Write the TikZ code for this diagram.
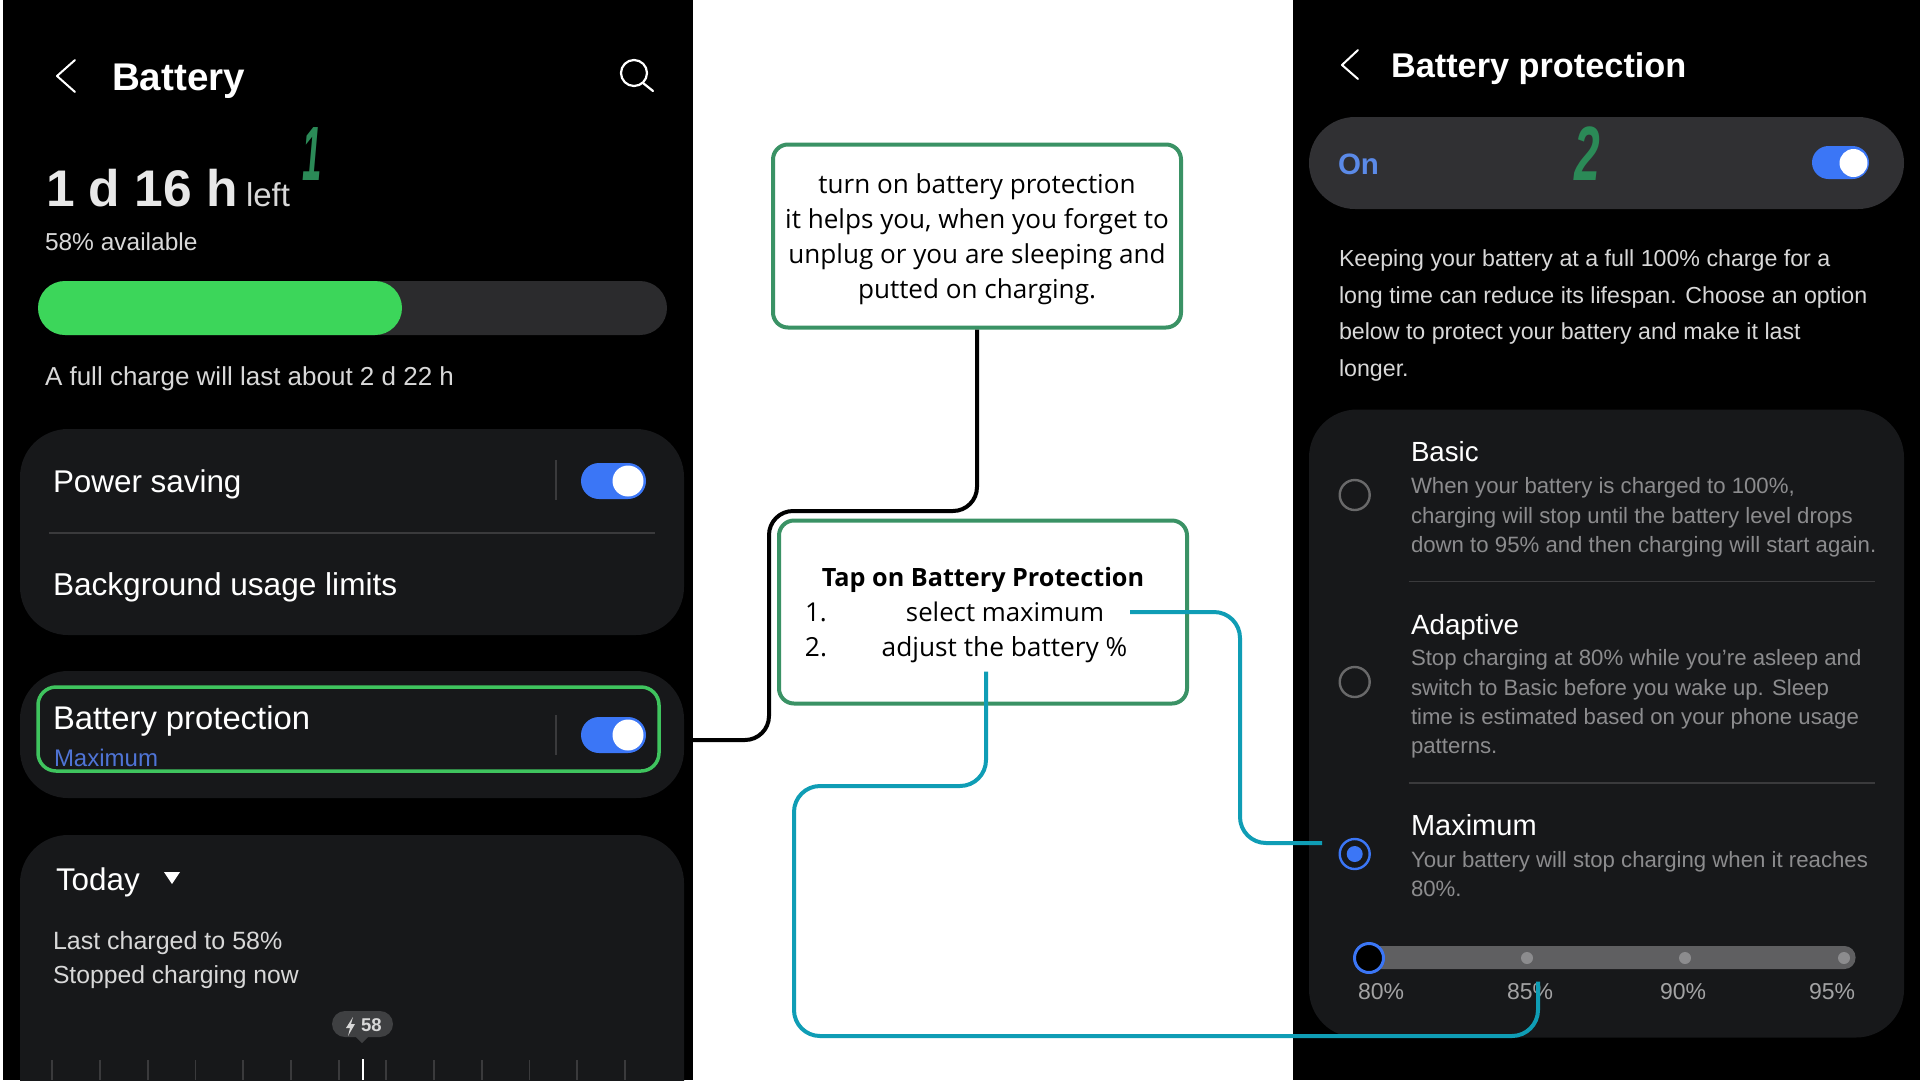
\documentclass[tikz,border=0pt]{standalone}
\usepackage{fontspec}
\setmainfont{Liberation Sans}
\newfontfamily\calloutfont{Open Sans}
\newcommand{\pxs}[1]{\fontsize{#1}{#1}\selectfont}
\definecolor{cardbg}{HTML}{17181A}
\definecolor{pillbg}{HTML}{303033}
\definecolor{barbg}{HTML}{2B2B2D}
\definecolor{batgreen}{HTML}{3CD65A}
\definecolor{hlgreen}{HTML}{3FC45E}
\definecolor{boxgreen}{HTML}{3A9265}
\definecolor{numgreen}{HTML}{2B8A57}
\definecolor{tblue}{HTML}{3B76F6}
\definecolor{linkblue}{HTML}{4F74D6}
\definecolor{onblue}{HTML}{5B8AE8}
\definecolor{teal}{HTML}{0F9DB5}
\definecolor{sepgrey}{HTML}{3A3A3C}
\definecolor{bubble}{HTML}{3F4042}
\definecolor{desc}{HTML}{8C8C8E}
\definecolor{track}{HTML}{5F5F61}
\definecolor{subtle}{HTML}{D8D8D8}
\tikzset{
  lbl/.style={anchor=base west,inner sep=0pt,outer sep=0pt,text=white},
  ctr/.style={anchor=base,inner sep=0pt,outer sep=0pt},
  calloutbox/.style={draw=boxgreen,line width=4pt,rounded corners=15pt,fill=white,align=center,inner sep=0pt,font=\calloutfont},
  card/.style={fill=cardbg,rounded corners=48pt},
  icon/.style={draw=white,line width=2.2pt,line cap=round,line join=round},
  blackconn/.style={draw=black,line width=4pt,rounded corners=24pt},
  tealconn/.style={draw=teal,line width=4pt,rounded corners=26pt},
  radio/.style={draw=#1,line width=2.4pt},
  desctext/.style={lbl,text=desc,font=\pxs{22.2}},
  pct/.style={lbl,text=desc!80!white,font=\pxs{23}}
}
\newcommand{\toggle}[2]{% x-left, y-centre
  \fill[tblue,rounded corners=18pt] (#1,#2-18) rectangle (#1+65,#2+18);
  \fill[white] (#1+47,#2) circle (15.5pt);
}
\begin{document}
\begin{tikzpicture}[x=1pt,y=-1pt]
\useasboundingbox (0,0) rectangle (1920,1080);
\fill[white] (0,0) rectangle (1920,1080);
% ---------- left phone
\fill[black] (3,0) rectangle (693,1080);
\draw[icon,line width=2pt] (75,60) -- (57,76) -- (75,92);
\node[lbl,font=\pxs{38.6}\bfseries] (title1) at (112,90) {Battery};
\draw[icon] (634,73) circle (13pt);
\draw[icon] (643,83) -- (653,91);
\node[lbl,font=\pxs{51.5}\bfseries,text=subtle!60!white] (remain) at (46,206) {1 d 16 h};
\node[lbl,font=\pxs{33},text=subtle] (leftw) at (246,206) {left};
\node[anchor=base,inner sep=0pt,text=numgreen,font=\pxs{77}\bfseries\itshape] (numone) at (312,180) {\scalebox{.45}[1]{1}};
\node[lbl,font=\pxs{24.5},text=subtle] (avail) at (45,250) {58\% available};
\fill[barbg,rounded corners=27pt] (38,281) rectangle (667,335);
\fill[batgreen,rounded corners=27pt] (38,281) rectangle (402,335);
\node[lbl,font=\pxs{26},text=subtle] (fullc) at (45,385) {A full charge will last about 2 d 22 h};
% card 1
\fill[card] (20,429) rectangle (684,635);
\node[lbl,font=\pxs{31.4}] (psave) at (53,492) {Power saving};
\draw[sepgrey,line width=1.5pt] (556,460) -- (556,500);
\toggle{581}{481}
\draw[sepgrey,line width=2pt] (49,533) -- (655,533);
\node[lbl,font=\pxs{31.6}] (bgul) at (53,595) {Background usage limits};
% card 2
\fill[card] (20,671) rectangle (684,798);
\draw[hlgreen,line width=3.5pt,rounded corners=18pt] (38,687) rectangle (659,771);
\node[lbl,font=\pxs{32.8}] (bprot) at (53,729) {Battery protection};
\node[lbl,font=\pxs{24},text=linkblue] (maxi) at (54,766) {Maximum};
\draw[sepgrey,line width=1.5pt] (556,715) -- (556,755);
\toggle{581}{735}
% card 3
\fill[card] (20,835) rectangle (684,1130);
\node[lbl,font=\pxs{31.4}] (today) at (56,890) {Today};
\fill[white] (164,872) -- (180,872) -- (172,884) -- cycle;
\node[lbl,font=\pxs{25},text=subtle] (lastc) at (53,949) {Last charged to 58\%};
\node[lbl,font=\pxs{24.7},text=subtle] (stopc) at (53,983) {Stopped charging now};
\fill[bubble,rounded corners=13pt] (332,1011) rectangle (393,1037);
\fill[bubble] (356,1037) -- (368,1037) -- (362,1043) -- cycle;
\fill[subtle] (353,1017) -- (346,1028) -- (350,1028) -- (348,1036) -- (355,1024) -- (351,1024) -- cycle;
\node[lbl,font=\pxs{18.5}\bfseries,text=subtle] (batnum) at (361,1031) {58};
\foreach \tx in {52,100,148,195.5,243,291,339,386,434,482,529.5,577,625}
  \draw[sepgrey,line width=1.5pt] (\tx,1060) -- (\tx,1080);
\draw[white,line width=2pt] (363,1059) -- (363,1080);
% ---------- right phone
\fill[black] (1293,0) rectangle (1920,1080);
\draw[icon,line width=2pt] (1358,50) -- (1342,65) -- (1358,79);
\node[lbl,font=\pxs{34.3}\bfseries] (title2) at (1391,77) {Battery protection};
\fill[pillbg,rounded corners=46pt] (1309,117) rectangle (1904,209);
\node[lbl,font=\pxs{29.5}\bfseries,text=onblue] (onw) at (1338,174) {On};
\fill[tblue,rounded corners=16.5pt] (1812,146) rectangle (1869,179);
\fill[white] (1853.5,163) circle (14pt);
\node[anchor=base,inner sep=0pt,text=numgreen,font=\pxs{77}\bfseries\itshape] (numtwo) at (1587,180) {\scalebox{.6}[1]{2}};
\node[lbl,font=\pxs{23.2},text=subtle] (p1) at (1339,266) {Keeping your battery at a full 100\% charge for a};
\node[lbl,font=\pxs{23.2},text=subtle] (p2) at (1339,303) {long time can reduce its lifespan. Choose an option};
\node[lbl,font=\pxs{23.2},text=subtle] (p3) at (1339,339) {below to protect your battery and make it last};
\node[lbl,font=\pxs{23.2},text=subtle] (p4) at (1339,376) {longer.};
% options card
\fill[card] (1309,409.5) rectangle (1904,1037.5);
\node[lbl,font=\pxs{27.7}] (basic) at (1411,461.6) {Basic};
\node[desctext] (b1) at (1411,493.5) {When your battery is charged to 100\%,};
\node[desctext] (b2) at (1411,523) {charging will stop until the battery level drops};
\node[desctext] (b3) at (1411,552) {down to 95\% and then charging will start again.};
\draw[radio=desc!75!black] (1354.7,495) circle (15pt);
\draw[sepgrey,line width=1.5pt] (1408.5,581.7) -- (1875,581.7);
\node[lbl,font=\pxs{27.8}] (adapt) at (1411,634) {Adaptive};
\node[desctext] (a1) at (1411,665) {Stop charging at 80\% while you're asleep and};
\node[desctext] (a2) at (1411,695) {switch to Basic before you wake up. Sleep};
\node[desctext] (a3) at (1411,724) {time is estimated based on your phone usage};
\node[desctext] (a4) at (1411,753) {patterns.};
\draw[radio=desc!75!black] (1354.7,682) circle (15pt);
\draw[sepgrey,line width=1.5pt] (1408.5,783) -- (1875,783);
\node[lbl,font=\pxs{29}] (maxh) at (1411,835.5) {Maximum};
\node[desctext] (m1) at (1411,867) {Your battery will stop charging when it reaches};
\node[desctext] (m2) at (1411,896) {80\%.};
\draw[radio=tblue] (1354.7,854) circle (15pt);
\fill[tblue] (1354.7,854) circle (8pt);
% slider
\fill[track,rounded corners=11pt] (1358,946) rectangle (1855.5,969);
\foreach \dx in {1527,1685,1844} \fill[desc] (\dx,958) circle (6pt);
\draw[tblue,line width=3pt,fill=black] (1369,958) circle (14.5pt);
\node[pct] (p80) at (1358,999) {80\%};
\node[pct] (p85) at (1507,999) {85\%};
\node[pct] (p90) at (1660,999) {90\%};
\node[pct] (p95) at (1809,999) {95\%};
% ---------- callouts
\node[calloutbox,minimum width=408pt,minimum height=183pt,font=\calloutfont\fontsize{26.1}{35}\selectfont] (box1) at (977,236)
  {\rule{0pt}{27pt}turn on battery protection\\it helps you, when you forget to\\unplug or you are sleeping and\\putted on charging.};
\node[calloutbox,minimum width=408pt,minimum height=183pt] (box2) at (983,612) {};
\node[ctr,font=\calloutfont\pxs{25.2}\bfseries] (tap) at (983,586.6) {Tap on Battery Protection};
\node[ctr,font=\calloutfont\pxs{26}] (n1) at (816,621) {1.};
\node[ctr,font=\calloutfont\pxs{25.8}] (selmax) at (1005,621) {select maximum};
\node[ctr,font=\calloutfont\pxs{26.3}] (n2) at (816,656) {2.};
\node[ctr,font=\calloutfont\pxs{26.3}] (adj) at (1004.5,656) {adjust the battery \%};
% connectors
\coordinate (cardedge) at (693,740);
\coordinate (selstart) at (1130,612);
\coordinate (radioend) at (1322,843);
\coordinate (adjstart) at (986,671.6);
\coordinate (sliderend) at (1538,981.7);
\draw[blackconn] (box1.south) -- (977,511) -- (769,511) -- (769,740) -- (cardedge);
\draw[tealconn] (selstart) -- (1240,612) -- (1240,843) -- (radioend);
\draw[tealconn] (adjstart) -- (986,786) -- (794,786) -- (794,1036) -- (1538,1036) -- (sliderend);
\end{tikzpicture}
\end{document}
